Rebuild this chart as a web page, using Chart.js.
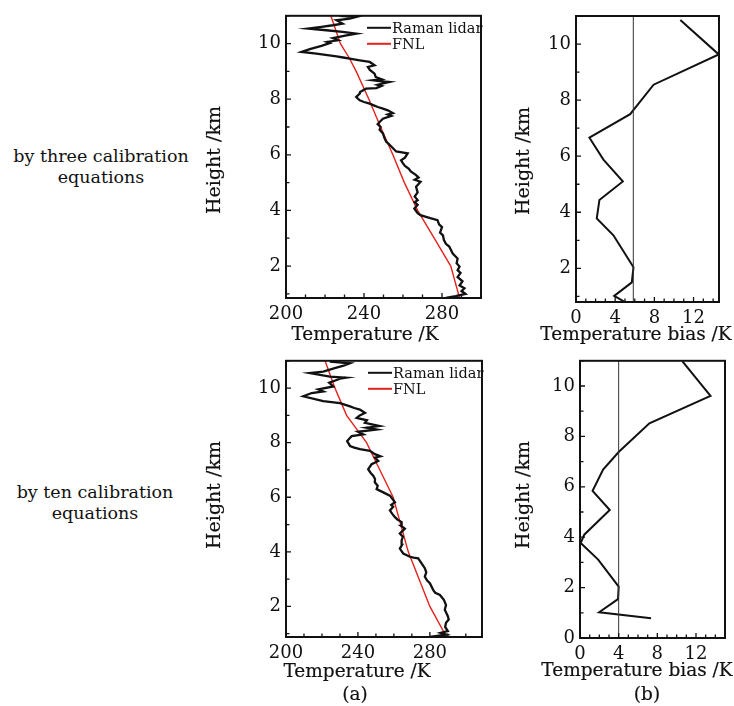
<!DOCTYPE html>
<html>
<head>
<meta charset="utf-8">
<script src="https://cdn.jsdelivr.net/npm/chart.js@4.4.0/dist/chart.umd.min.js"></script>
<style>
  body { margin: 0; background: #fff; width: 734px; height: 706px; position: relative; overflow: hidden; font-family: "DejaVu Serif", serif; color: #111; }
  canvas { position: absolute; }
  .side { position: absolute; text-align: center; font-size: 17.5px; line-height: 21px; }
  .ttl { position: absolute; white-space: nowrap; font-size: 18.5px; line-height: 20px; transform: translate(-50%, -50%); -webkit-text-stroke: 0.2px #111; }
  .ttl.v { font-size: 19px; transform: translate(-50%, -50%) rotate(-90deg); }
</style>
</head>
<body>
<div class="side" style="left:1px; top:146px; width:200px">by three calibration<br>equations</div>
<div class="side" style="left:-5px; top:482px; width:200px">by ten calibration<br>equations</div>
<canvas id="c1" width="300" height="345" style="left:190px; top:0px"></canvas>
<canvas id="c2" width="230" height="345" style="left:500px; top:0px"></canvas>
<canvas id="c3" width="300" height="361" style="left:190px; top:345px"></canvas>
<canvas id="c4" width="234" height="361" style="left:500px; top:345px"></canvas>
<div class="ttl v" style="left:213px; top:160px">Height /km</div>
<div class="ttl v" style="left:522px; top:161px">Height /km</div>
<div class="ttl v" style="left:213px; top:495px">Height /km</div>
<div class="ttl v" style="left:522px; top:495px">Height /km</div>
<div class="ttl" style="left:365px; top:334px">Temperature /K</div>
<div class="ttl" style="left:636px; top:334px">Temperature bias /K</div>
<div class="ttl" style="left:357px; top:671px">Temperature /K</div>
<div class="ttl" style="left:355px; top:694px">(a)</div>
<div class="ttl" style="left:637px; top:670px">Temperature bias /K</div>
<div class="ttl" style="left:647px; top:694px">(b)</div>
<script>
// tick labels
const tempTicks = [200, 240, 280];
const biasTicks = [0, 4, 8, 12];
const heightTicksTop = [2, 4, 6, 8, 10];
const heightTicksBottom = [0, 2, 4, 6, 8, 10];

// (a) top: three calibration equations, Raman lidar temperature (K) vs height (km)
const lidarT3 = [282, 287, 292, 290, 291.5, 289, 290.5, 288, 289.5, 288, 289, 287.5, 288, 285.5, 283.7, 282, 281, 280.5, 279, 280,
  278.5, 277.7, 274, 271.8, 269, 267.5, 265.8, 267.5, 266, 267.5, 266, 267.5, 266.7, 269, 266, 268, 266.7, 264, 263, 261,
  260, 259, 261, 262.4, 256.5, 254, 252.5, 251.4, 250.5, 249.7, 248, 248.5, 247, 248, 249.7, 254, 252.2, 254.8, 252.2, 249.7,
  247.1, 245, 242.9, 240, 237.8, 236, 237.8, 238, 241, 246.3, 249, 247, 253, 248, 244.6, 249, 246, 245.4, 243, 242,
  245.4, 242.9, 237.8, 232.7, 229.3, 225.9, 215.6, 208, 212.2, 218.2, 222.4, 221, 226.7, 224, 231, 236, 229, 220.7, 211.4, 218.2,
  224, 229, 225.9, 232.7, 236, 227.5];
const lidarH3 = [0.85, 0.92, 1.0, 1.1, 1.2, 1.3, 1.45, 1.6, 1.75, 1.85, 1.98, 2.1, 2.27, 2.45, 2.7, 2.8, 2.93, 3.1, 3.2, 3.4,
  3.5, 3.65, 3.72, 3.77, 3.83, 3.9, 4.07, 4.2, 4.3, 4.37, 4.5, 4.65, 4.85, 5.03, 5.1, 5.18, 5.27, 5.4, 5.5, 5.6,
  5.69, 5.8, 5.9, 6.05, 6.12, 6.3, 6.4, 6.47, 6.6, 6.77, 6.9, 7.0, 7.1, 7.18, 7.3, 7.4, 7.45, 7.5, 7.6, 7.66,
  7.72, 7.78, 7.84, 7.9, 7.96, 8.08, 8.2, 8.26, 8.38, 8.4, 8.48, 8.52, 8.62, 8.65, 8.68, 8.72, 8.8, 8.92, 9.05, 9.16,
  9.22, 9.34, 9.4, 9.46, 9.5, 9.54, 9.64, 9.7, 9.8, 9.92, 10.02, 10.06, 10.12, 10.2, 10.3, 10.36, 10.42, 10.48, 10.54, 10.6,
  10.66, 10.72, 10.84, 10.9, 10.96, 11.0];
const fnlT3 = [289, 284.5, 276, 267.5, 260.7, 254.8, 248.5, 242.5, 236, 232.3, 227.9, 223];
const fnlH3 = [0.85, 2, 3, 4, 5, 6, 7, 8, 9, 9.5, 10, 11];

// (b) top: temperature bias (K) vs height (km)
const biasX3 = [5.0, 3.9, 5.7, 5.87, 3.82, 2.12, 2.39, 4.78, 2.8, 1.37, 5.53, 7.92, 14.57, 10.65];
const biasH3 = [0.8, 1.02, 1.5, 2.04, 3.18, 3.78, 4.44, 5.1, 5.88, 6.66, 7.5, 8.55, 9.63, 10.86];
const biasMean3 = 5.85;

// (a) bottom: ten calibration equations
const lidarT10 = [280, 289, 286, 290, 288.5, 289, 290.5, 290, 288.3, 289, 287.8, 285.6, 283, 281.9, 280, 278.5, 277.2, 278, 277.2, 275.4,
  273.5, 271, 268.9, 265.2, 263.3, 264.5, 264.3, 265, 263.3, 266.1, 264, 264.3, 262, 260.6, 259, 257.8, 259.6, 258.5, 260.6, 257.8,
  254.1, 250.4, 251, 249.4, 249.5, 248.5, 247, 245.7, 247.6, 251.3, 249.5, 252.5, 249.4, 246.7, 241.1, 238, 235.6, 234, 236.5, 243,
  240, 250.4, 244.8, 252, 243.9, 245, 239.3, 241, 243.9, 241.1, 238, 235.6, 230, 220.7, 209.6, 214.3, 220.7, 218, 226.3, 224,
  230.9, 233, 224.4, 213.3, 220.7, 227.1, 232, 235.6, 224.4];
const lidarH10 = [0.88, 0.97, 1.03, 1.1, 1.25, 1.4, 1.52, 1.64, 1.88, 2.05, 2.24, 2.42, 2.5, 2.6, 2.85, 2.95, 3.09, 3.25, 3.4, 3.58,
  3.76, 3.79, 3.82, 3.94, 4.12, 4.25, 4.42, 4.55, 4.67, 4.85, 4.95, 5.09, 5.18, 5.27, 5.4, 5.52, 5.65, 5.72, 5.82, 6.06,
  6.18, 6.3, 6.42, 6.55, 6.67, 6.79, 6.9, 7.03, 7.21, 7.33, 7.45, 7.5, 7.58, 7.7, 7.76, 7.82, 7.88, 8.06, 8.24, 8.3,
  8.4, 8.48, 8.55, 8.61, 8.73, 8.82, 8.91, 9.0, 9.09, 9.21, 9.27, 9.33, 9.45, 9.52, 9.7, 9.82, 9.88, 9.95, 10.06, 10.2,
  10.36, 10.38, 10.42, 10.55, 10.6, 10.73, 10.82, 10.91, 10.97];
const fnlT10 = [289.3, 280, 268, 259.6, 252.2, 244.8, 233.7, 227.2, 221.7];
const fnlH10 = [0.88, 2, 4, 6, 7, 8, 9, 10, 11];

// (b) bottom
const biasX10 = [7.35, 1.98, 3.93, 4.0, 1.88, 0.07, 0.44, 3.08, 1.3, 2.39, 4.0, 7.18, 13.5, 10.6];
const biasH10 = [0.78, 1.02, 1.54, 2.04, 3.11, 3.77, 4.1, 5.08, 5.84, 6.68, 7.38, 8.52, 9.61, 10.98];
const biasMean10 = 4.0;

const INK = '#111';
const FNL_RED = '#e3231d';
const FONT = 'DejaVu Serif';

function pts(xs, ys) {
  return xs.map((v, i) => ({ x: v, y: ys[i] }));
}

// box round the plot area and small inward ticks
const framePlugin = {
  id: 'frame',
  afterDatasetsDraw(chart, args, opts) {
    const { ctx, chartArea: a, scales: { x, y } } = chart;
    ctx.save();
    ctx.strokeStyle = INK;
    ctx.lineWidth = 1.3;
    ctx.beginPath();
    for (let v = Math.ceil(x.min / opts.xStep) * opts.xStep; v <= x.max + 1e-9; v += opts.xStep) {
      const px = x.getPixelForValue(v);
      const len = x.ticks.some(t => Math.abs(t.value - v) < 1e-9) ? 5 : 3.5;
      ctx.moveTo(px, a.bottom);
      ctx.lineTo(px, a.bottom - len);
    }
    for (let v = Math.ceil(y.min / opts.yStep) * opts.yStep; v <= y.max + 1e-9; v += opts.yStep) {
      const py = y.getPixelForValue(v);
      const len = y.ticks.some(t => Math.abs(t.value - v) < 1e-9) ? 5 : 3.5;
      ctx.moveTo(a.left, py);
      ctx.lineTo(a.left + len, py);
    }
    ctx.stroke();
    ctx.lineWidth = 2;
    ctx.strokeRect(a.left, a.top, a.right - a.left, a.bottom - a.top);
    ctx.restore();
  }
};

// line-sample legend in the top right corner of the plot
const lineLegend = {
  id: 'lineLegend',
  afterDraw(chart, args, opts) {
    if (!opts.show) return;
    const { ctx, chartArea: a } = chart;
    ctx.save();
    ctx.font = '14.5px "' + FONT + '"';
    ctx.textBaseline = 'middle';
    ctx.fillStyle = INK;
    let row = 0;
    chart.data.datasets.forEach(ds => {
      if (!ds.label) return;
      const yy = a.top + 12 + row * 16;
      ctx.strokeStyle = ds.borderColor;
      ctx.lineWidth = 2;
      ctx.beginPath();
      ctx.moveTo(a.right - 114, yy);
      ctx.lineTo(a.right - 90, yy);
      ctx.stroke();
      ctx.fillText(ds.label, a.right - 89, yy + 1);
      row++;
    });
    ctx.restore();
  }
};

function makePanel(id, o) {
  new Chart(document.getElementById(id), {
    type: 'scatter',
    data: { datasets: o.datasets },
    options: {
      responsive: false,
      animation: false,
      devicePixelRatio: 1,
      layout: { padding: { top: o.padTop, right: o.padRight, left: 0, bottom: 0 } },
      elements: { point: { radius: 0 }, line: { tension: 0 } },
      scales: {
        x: {
          type: 'linear',
          min: o.xMin, max: o.xMax,
          afterBuildTicks: s => { s.ticks = o.xTicks.map(v => ({ value: v })); },
          afterFit: s => { s.height = o.xAxisH; },
          grid: { display: false, drawTicks: false },
          border: { display: false },
          ticks: { color: INK, font: { family: FONT, size: 18 }, padding: 6, maxRotation: 0, callback: v => String(v) }
        },
        y: {
          type: 'linear',
          min: o.yMin, max: o.yMax,
          afterBuildTicks: s => { s.ticks = o.yTicks.map(v => ({ value: v })); },
          afterFit: s => { s.width = o.yAxisW; },
          grid: { display: false, drawTicks: false },
          border: { display: false },
          ticks: { color: INK, font: { family: FONT, size: 18 }, padding: 5, callback: v => String(v) }
        }
      },
      plugins: {
        legend: { display: false },
        tooltip: { enabled: false },
        frame: { xStep: o.xStep, yStep: 1 },
        lineLegend: { show: !!o.legend }
      }
    },
    plugins: [framePlugin, lineLegend]
  });
}

function lidarSets(t, h, ft, fh) {
  return [
    { label: 'Raman lidar', data: pts(t, h), showLine: true, borderColor: INK, borderWidth: 2.3, fill: false },
    { label: 'FNL', data: pts(ft, fh), showLine: true, borderColor: FNL_RED, borderWidth: 1.4, fill: false }
  ];
}

function biasSets(bx, bh, mean, yMin, yMax) {
  return [
    { label: '', data: [{ x: mean, y: yMin }, { x: mean, y: yMax }], showLine: true, borderColor: '#333', borderWidth: 1, fill: false },
    { label: '', data: pts(bx, bh), showLine: true, borderColor: INK, borderWidth: 2, fill: false }
  ];
}

makePanel('c1', {
  datasets: lidarSets(lidarT3, lidarH3, fnlT3, fnlH3), legend: true,
  xMin: 200, xMax: 300, yMin: 0.85, yMax: 11, xTicks: tempTicks, yTicks: heightTicksTop, xStep: 10,
  padTop: 15, padRight: 9, xAxisH: 47, yAxisW: 96
});

makePanel('c2', {
  datasets: biasSets(biasX3, biasH3, biasMean3, 0.8, 11),
  xMin: 0, xMax: 14.6, yMin: 0.8, yMax: 11, xTicks: biasTicks, yTicks: heightTicksTop, xStep: 1,
  padTop: 16, padRight: 11, xAxisH: 43, yAxisW: 76
});

makePanel('c3', {
  datasets: lidarSets(lidarT10, lidarH10, fnlT10, fnlH10), legend: true,
  xMin: 200, xMax: 309, yMin: 0.88, yMax: 11, xTicks: tempTicks, yTicks: heightTicksTop, xStep: 10,
  padTop: 15, padRight: 8, xAxisH: 69, yAxisW: 96
});

makePanel('c4', {
  datasets: biasSets(biasX10, biasH10, biasMean10, 0, 11),
  xMin: 0, xMax: 15, yMin: 0, yMax: 11, xTicks: biasTicks, yTicks: heightTicksBottom, xStep: 1,
  padTop: 15, padRight: 9, xAxisH: 68, yAxisW: 80
});
</script>
</body>
</html>
